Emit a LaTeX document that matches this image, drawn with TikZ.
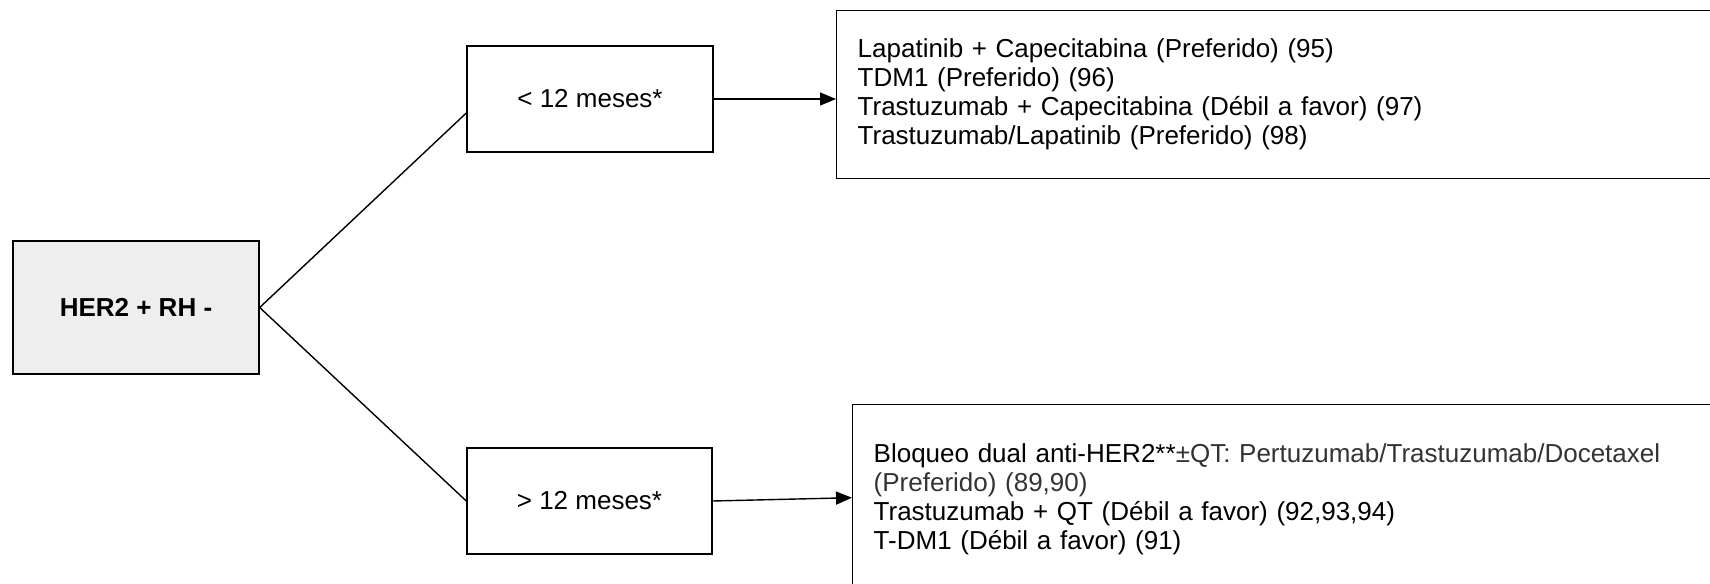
\documentclass[tikz,border=0pt]{standalone}
\usepackage{fontspec}
\setmainfont{Liberation Sans}
\usetikzlibrary{arrows.meta}
\definecolor{boxgray}{HTML}{EEEEEE}
\definecolor{txtgray}{HTML}{333333}
\begin{document}
\begin{tikzpicture}[x=0.5pt,y=-0.5pt,
  txt/.style={font=\fontsize{13pt}{14.5pt}\selectfont},
  box/.style={draw=black, line width=0.7pt, inner sep=0pt, txt},
  conn/.style={line width=0.7pt},
  arr/.style={conn, -{Triangle[length=8pt,width=6.5pt]}}]
\useasboundingbox (0,0) rectangle (1710,584);
\begin{scope}
\clip (0,0) rectangle (1710,584);
\node[box, fill=boxgray, minimum width=123pt, minimum height=66.5pt,
      font=\fontsize{13pt}{14.5pt}\selectfont\bfseries] (her) at (136,307.5) {HER2 + RH -};
\node[box, minimum width=123pt, minimum height=53pt] (lt) at (590,99) {< 12 meses*};
\node[box, minimum width=122.5pt, minimum height=53pt] (gt) at (589.5,501) {> 12 meses*};
\node[box, anchor=north west, inner xsep=10.5pt, text width=424pt, align=left,
      minimum height=84pt] (rtop) at (836,10)
  {Lapatinib + Capecitabina (Preferido) (95)\\
   TDM1 (Preferido) (96)\\
   Trastuzumab + Capecitabina (Débil a favor) (97)\\
   Trastuzumab/Lapatinib (Preferido) (98)};
\node[box, anchor=north west, inner xsep=10.5pt, text width=414pt, align=left,
      minimum height=95pt] (rbot) at (852,404)
  {Bloqueo dual anti-HER2**\textcolor{txtgray}{±QT: Pertuzumab/Trastuzumab/Docetaxel}\\
   \textcolor{txtgray}{(Preferido) (89,90)}\\
   Trastuzumab + QT (Débil a favor) (92,93,94)\\
   T-DM1 (Débil a favor) (91)};
\draw[conn] (her.east) -- ([yshift=-7pt]lt.west);
\draw[conn] (her.east) -- (gt.west);
\draw[arr] (lt.east) -- (lt.east -| rtop.west);
\draw[arr] (gt.east) -- ([yshift=1pt]rbot.west);
\end{scope}
\end{tikzpicture}
\end{document}
